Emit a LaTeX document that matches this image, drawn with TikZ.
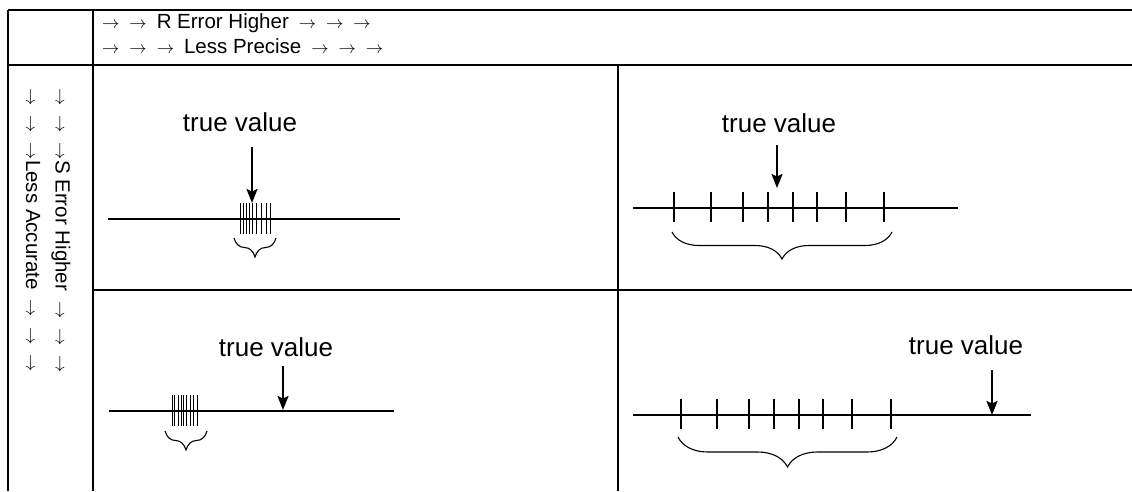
\documentclass[tikz,border=0pt]{standalone}
\usepackage{fontspec}
\setmainfont{Liberation Sans}
\usetikzlibrary{decorations.pathreplacing,arrows.meta}
\newcommand{\myra}{\mbox{\fontsize{17}{17}\selectfont$\rightarrow$}}
\newcommand{\gp}{\hspace{10pt}}
\begin{document}
\begin{tikzpicture}[x=1pt,y=-1pt,
 grid/.style={line width=2.8pt},
 numline/.style={line width=2pt},
 tickmk/.style={line width=1.5pt},
 denstick/.style={line width=1pt},
 ptr/.style={line width=2pt,-{Stealth[length=14pt,width=11pt,inset=2.5pt]}},
 brc/.style={decorate,decoration={brace,amplitude=#1},line width=1.1pt},
 lbl/.style={font=\fontsize{26}{30}\selectfont,inner sep=0pt},
 hdr/.style={font=\fontsize{20.5}{22}\selectfont,inner sep=0pt,anchor=west}]
\useasboundingbox (0,0) rectangle (1132,491);
\fill[white] (0,0) rectangle (1132,491);
% table
\draw[grid] (8,10) -- (1132,10);
\draw[grid] (8,65) -- (1132,65);
\draw[grid] (93,290) -- (1132,290);
\draw[grid] (8,10) -- (8,491);
\draw[grid] (93,10) -- (93,491);
\draw[grid] (618,65) -- (618,491);
% headers
\node[hdr] (h1) at (102,23) {\myra\gp\myra\gp R Error Higher\gp\myra\gp\myra\gp\myra};
\node[hdr] (h2) at (102,46) {\myra\gp\myra\gp\myra\gp Less Precise\gp\myra\gp\myra\gp\myra};
\node[hdr,rotate=-90] (v1) at (61,88) {\myra\gp\myra\gp\myra S Error Higher\gp\myra\gp\myra\gp\myra};
\node[hdr,rotate=-90] (v2) at (33,88) {\myra\gp\myra\gp\myra Less Accurate\gp\myra\gp\myra\gp\myra};
% cell TL
\node[lbl] (tl) at (240,122) {true value};
\coordinate (tlA) at (252,147);
\coordinate (tlB) at (252,203);
\draw[numline] (108,219) -- (400,219);
\foreach \x in {240.7,243.7,246.7,249.7,252.3,256,261.3,266.3,270.7} \draw[denstick] (\x,203) -- (\x,234);
\draw[ptr] (tlA) -- (tlB);
\draw[brc=19pt] (276,238) -- (234,238);
% cell TR
\node[lbl] (tr) at (779,123) {true value};
\coordinate (trA) at (777,145);
\coordinate (trB) at (777,188);
\draw[numline] (633,208) -- (958,208);
\foreach \x in {674,711,743,768,793,817,846,884} \draw[tickmk] (\x,192) -- (\x,222);
\draw[ptr] (trA) -- (trB);
\draw[brc=27pt] (892,232) -- (672,232);
% cell BL
\node[lbl] (bl) at (276,347) {true value};
\coordinate (blA) at (283,366);
\coordinate (blB) at (283,410);
\draw[numline] (109,411) -- (394,411);
\foreach \x in {172,174.5,178,181,183.5,186,190,193,197} \draw[denstick] (\x,395) -- (\x,426);
\draw[ptr] (blA) -- (blB);
\draw[brc=19pt] (207,431) -- (165,431);
% cell BR
\node[lbl] (br) at (966,345) {true value};
\coordinate (brA) at (992,370);
\coordinate (brB) at (992,415);
\draw[numline] (633,415) -- (1031,415);
\foreach \x in {681,717,749,774,799,823,852,891} \draw[tickmk] (\x,399) -- (\x,429);
\draw[ptr] (brA) -- (brB);
\draw[brc=30pt] (897,437) -- (678,437);
\end{tikzpicture}
\end{document}
